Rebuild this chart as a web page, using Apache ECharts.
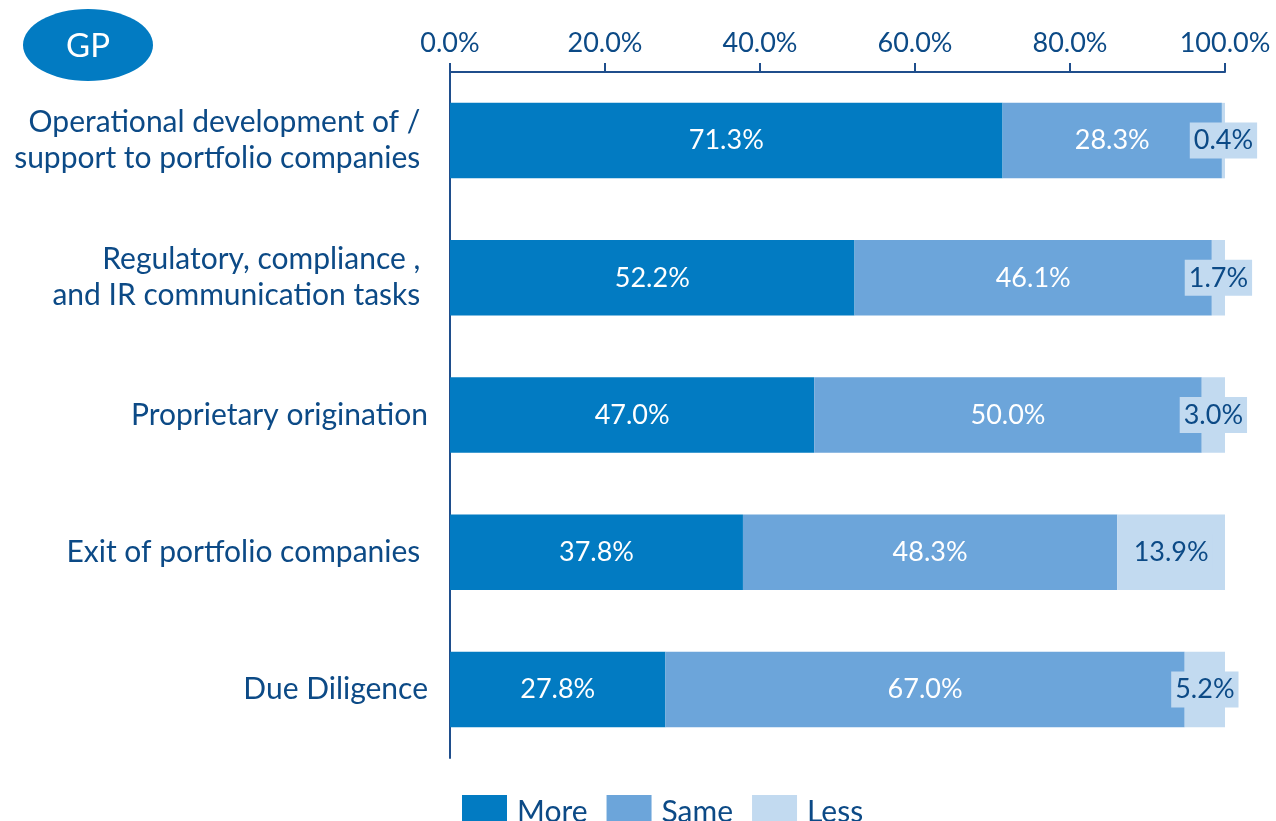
<!DOCTYPE html>
<html>
<head>
<meta charset="utf-8">
<script src="https://cdn.jsdelivr.net/npm/echarts@6/dist/echarts.min.js"></script>
<style>
html,body{margin:0;padding:0;background:#fff;}
#chart{width:1276px;height:821px;}
</style>
</head>
<body>
<div id="chart"></div>
<script>
const categories = [
  'Operational development of / \nsupport to portfolio companies ',
  'Regulatory, compliance , \n and IR communication tasks ',
  'Proprietary origination',
  'Exit of portfolio companies ',
  'Due Diligence'
];
const moreValues = [71.3, 52.2, 47.0, 37.8, 27.8];
const sameValues = [28.3, 46.1, 50.0, 48.3, 67.0];
const lessValues = [0.4, 1.7, 3.0, 13.9, 5.2];
const xTicks = [0, 20, 40, 60, 80, 100];

const FONT = 'Lato';
const NAVY = '#0c4a86';
const pct = v => Number(v).toFixed(1) + '%';

const chart = echarts.init(document.getElementById('chart'));
chart.setOption({
  animation: false,
  textStyle: { fontFamily: FONT },
  graphic: [{
    type: 'group',
    left: 23, top: 9,
    children: [
      { type: 'ellipse', shape: { cx: 65, cy: 36, rx: 65, ry: 36 }, style: { fill: '#027BC2' } },
      { type: 'text', style: { text: 'GP', x: 65, y: 37, align: 'center', verticalAlign: 'middle', fill: '#fff', font: '33px ' + FONT } }
    ]
  }],
  legend: {
    top: 790, left: 457,
    itemWidth: 45, itemHeight: 34, itemGap: 19,
    icon: 'rect',
    textStyle: { color: NAVY, fontSize: 30, fontFamily: FONT, padding: [10, 0, 0, 5] },
    data: ['More', 'Same', 'Less']
  },
  grid: { left: 450, right: 51, top: 72, bottom: 63, containLabel: false },
  xAxis: {
    type: 'value', position: 'top', min: 0, max: 100, interval: 20,
    axisLine: { show: true, lineStyle: { color: '#1f4e8c', width: 2 } },
    axisTick: { show: true, length: 9, lineStyle: { color: '#1f4e8c', width: 2 } },
    splitLine: { show: false },
    axisLabel: { color: NAVY, fontSize: 27, margin: 15, formatter: v => xTicks.includes(v) ? pct(v) : '' }
  },
  yAxis: {
    type: 'category', inverse: true, data: categories,
    axisLine: { show: true, lineStyle: { color: '#1f4e8c', width: 2 } },
    axisTick: { show: false },
    axisLabel: { color: NAVY, fontSize: 30, margin: 22, lineHeight: 36, align: 'right' }
  },
  series: [
    {
      name: 'More', type: 'bar', stack: 'a', data: moreValues, barWidth: '55%',
      itemStyle: { color: '#027BC2' },
      label: { show: true, position: 'inside', color: '#fff', fontSize: 27, fontFamily: FONT, formatter: p => pct(p.value) }
    },
    {
      name: 'Same', type: 'bar', stack: 'a', data: sameValues, barWidth: '55%',
      itemStyle: { color: '#6CA5DA' },
      label: { show: true, position: 'inside', color: '#fff', fontSize: 27, fontFamily: FONT, formatter: p => pct(p.value) }
    },
    {
      name: 'Less', type: 'bar', stack: 'a', data: lessValues, barWidth: '55%',
      itemStyle: { color: '#C2DAF0' },
      label: { show: true, position: 'inside', color: NAVY, fontSize: 27, fontFamily: FONT,
        backgroundColor: '#C2DAF0', padding: [5, 4, 4, 4], formatter: p => pct(p.value) }
    }
  ]
});
</script>
</body>
</html>
